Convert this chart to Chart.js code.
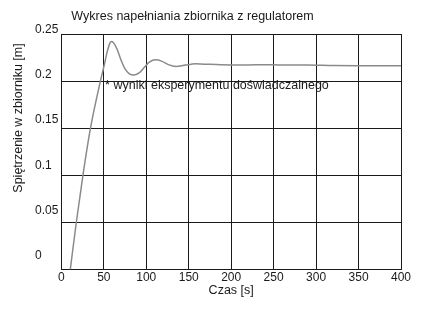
<!DOCTYPE html>
<html>
<head>
<meta charset="utf-8">
<script src="https://cdn.jsdelivr.net/npm/chart.js@4.4.0/dist/chart.umd.min.js"></script>
<style>
  body { margin: 0; background: #fff; }
  #wrap { width: 436px; height: 311px; }
</style>
</head>
<body>
<div id="wrap"><canvas id="tank"></canvas></div>
<script>
const chartTitle = "Wykres napełniania zbiornika z regulatorem";
const noteText = "* wyniki eksperymentu doświadczalnego";
const xTitle = "Czas [s]";
const yTitle = "Spiętrzenie w zbiorniku [m]";

// time [s] and water level [m]
const timeS = [10.5, 17.6, 25.4, 34.3, 46, 50, 54, 57, 59, 62, 66, 70, 75, 80, 86, 92, 98, 104, 111, 118, 126, 135, 146, 158, 175, 200, 220, 240, 260, 290, 320, 350, 400];
const levelM = [0, 0.05, 0.1, 0.15, 0.2, 0.215, 0.231, 0.240, 0.242, 0.240, 0.233, 0.223, 0.213, 0.2078, 0.2066, 0.209, 0.215, 0.2205, 0.2226, 0.2212, 0.2175, 0.2156, 0.217, 0.2183, 0.2178, 0.2172, 0.2172, 0.2175, 0.217, 0.2172, 0.2165, 0.2163, 0.2163];

const xTicks = [0, 50, 100, 150, 200, 250, 300, 350, 400];
const yTicks = [0, 0.05, 0.1, 0.15, 0.2, 0.25];
const yTickLabels = ["0", "0.05", "0.1", "0.15", "0.2", "0.25"];

const family = "'Liberation Sans', Arial, sans-serif";
const font = { family, size: 12 };
const ink = "#1a1a1a";

// title, note and y title placed relative to the plot area
const textLabels = {
  id: "textLabels",
  afterDatasetsDraw(chart) {
    const { ctx, chartArea, scales } = chart;
    ctx.save();
    ctx.fillStyle = ink;
    ctx.font = "12.5px " + family;
    ctx.textBaseline = "middle";
    ctx.textAlign = "left";
    ctx.fillText(chartTitle, chartArea.left + 10, chartArea.top - 17);
    ctx.fillText(noteText, scales.x.getPixelForValue(51.5), scales.y.getPixelForValue(0.1955));
    ctx.translate(19, chartArea.top + 84);
    ctx.rotate(-Math.PI / 2);
    ctx.textAlign = "center";
    ctx.fillText(yTitle, 0, 0);
    ctx.restore();
  }
};

new Chart(document.getElementById("tank"), {
  type: "line",
  data: {
    datasets: [{
      data: timeS.map((t, i) => ({ x: t, y: levelM[i] })),
      borderColor: "#8a8a8a",
      borderWidth: 1.5,
      pointRadius: 0,
      cubicInterpolationMode: "monotone",
      fill: false
    }]
  },
  options: {
    responsive: true,
    maintainAspectRatio: false,
    animation: false,
    layout: { padding: { top: 34, right: 35, left: 35, bottom: 13 } },
    plugins: {
      legend: { display: false },
      tooltip: { enabled: false }
    },
    scales: {
      x: {
        type: "linear",
        min: 0,
        max: 400,
        afterBuildTicks: (axis) => { axis.ticks = xTicks.map(v => ({ value: v })); },
        grid: { color: ink, lineWidth: 1, drawTicks: false },
        border: { color: ink, width: 1 },
        ticks: { color: ink, font, padding: 1, maxRotation: 0 },
        title: { display: true, text: xTitle, color: ink, font: { family, size: 12.5 }, padding: { top: -3, bottom: 0 } }
      },
      y: {
        min: 0,
        max: 0.25,
        afterBuildTicks: (axis) => { axis.ticks = yTicks.map(v => ({ value: v })); },
        grid: { color: ink, lineWidth: 1, drawTicks: false },
        border: { color: ink, width: 1 },
        ticks: { display: false }
      },
      // label-only axis: labels sit slightly higher than the grid lines, as in the original
      yl: {
        position: "left",
        min: -0.005,
        max: 0.255,
        afterBuildTicks: (axis) => { axis.ticks = yTicks.map(v => ({ value: v })); },
        grid: { display: false, drawTicks: false },
        border: { display: false },
        ticks: {
          color: ink,
          font,
          padding: 1.5,
          crossAlign: "far",
          labelOffset: -9,
          callback: (v, i) => yTickLabels[i]
        }
      }
    }
  },
  plugins: [textLabels]
});
</script>
</body>
</html>
